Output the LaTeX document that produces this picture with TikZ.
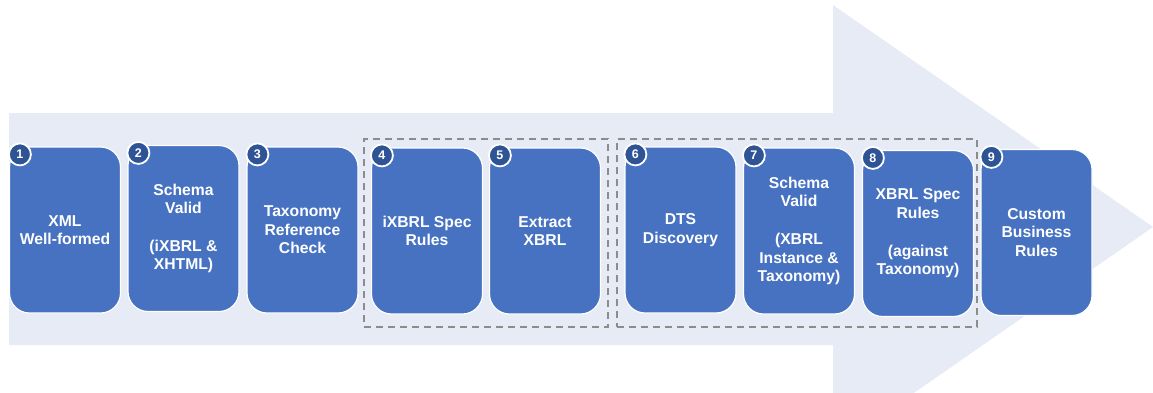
\documentclass[tikz,border=0pt]{standalone}
\usepackage{fontspec}
\setmainfont{Liberation Sans}
\usetikzlibrary{calc}
\definecolor{arrowbg}{HTML}{E7EBF5}
\definecolor{boxblue}{HTML}{4672C1}
\definecolor{numblue}{HTML}{2F5496}
\definecolor{dashgray}{HTML}{8C8C8C}
\tikzset{
  stepbox/.style={rectangle, rounded corners=20pt, minimum width=111pt, minimum height=166pt,
    fill=boxblue, draw=white, line width=1.2pt, text=white, align=center, inner sep=2pt,
    font=\bfseries\fontsize{15.7}{18.6}\selectfont},
  numdot/.style={circle, fill=numblue, draw=white, line width=1.8pt, minimum size=22pt, inner sep=0pt,
    text=white, font=\bfseries\fontsize{12.5}{13}\selectfont},
  groupbox/.style={rectangle, draw=dashgray, line width=1.2pt, dash pattern=on 7pt off 5pt}
}
\begin{document}
\begin{tikzpicture}[x=1pt,y=-1pt]
\useasboundingbox (0,0) rectangle (1153,392);
\clip (0,0) rectangle (1153,392);
\fill[white] (0,0) rectangle (1153,392);
% big arrow
\fill[arrowbg] (9,113) -- (833,113) -- (833,5) -- (1153,227) -- (833,449) -- (833,345) -- (9,345) -- cycle;
% dashed groups
\node[groupbox, minimum width=244pt, minimum height=188pt] (g1) at (486,233) {};
\node[groupbox, minimum width=360pt, minimum height=188pt] (g2) at (797,233) {};
% steps
\node[stepbox] (b1) at (65,230) {XML\\Well-formed};
\node[stepbox] (b2) at (183.5,228.5) {Schema\\Valid\\[19pt](iXBRL \&\\XHTML)};
\node[stepbox] (b3) at (302.5,230) {Taxonomy\\Reference\\Check};
\node[stepbox] (b4) at (427,231) {iXBRL Spec\\Rules};
\node[stepbox] (b5) at (545,231) {Extract\\XBRL};
\node[stepbox] (b6) at (680.5,230) {DTS\\Discovery};
\node[stepbox] (b7) at (799,231) {Schema\\Valid\\[19pt](XBRL\\Instance \&\\Taxonomy)};
\node[stepbox] (b8) at (918,233.5) {XBRL Spec\\Rules\\[19pt](against\\Taxonomy)};
\node[stepbox] (b9) at (1036.5,232.5) {Custom\\Business\\Rules};
% numbers
\foreach \i in {1,...,9}{
  \node[numdot] (n\i) at ($(b\i.north west)+(11,8)$) {\i};
}
\end{tikzpicture}
\end{document}
